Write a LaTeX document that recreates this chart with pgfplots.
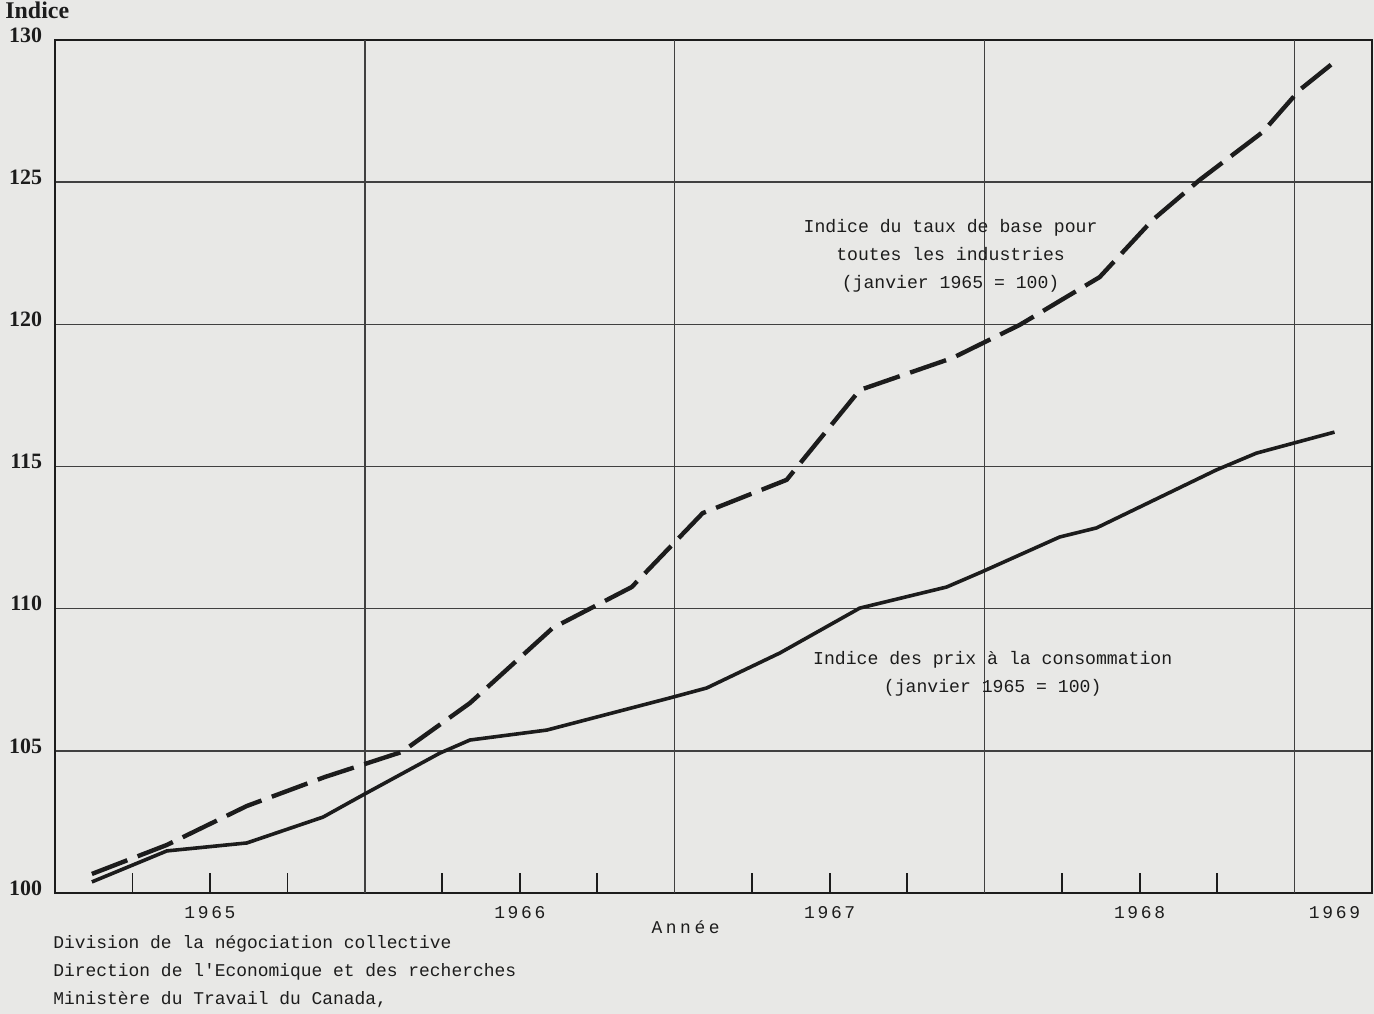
\documentclass[border=0pt]{standalone}
\usepackage{pgfplots}
\pgfplotsset{compat=1.18}
\usepackage{fontspec}
\setmainfont{Liberation Serif}
\newfontfamily\mono{Liberation Mono}
\definecolor{bg}{HTML}{E8E8E6}
\definecolor{ink}{HTML}{1C1C1C}
\definecolor{gridc}{HTML}{404040}
\newcommand\yr[4]{#1\hspace{.15em}#2\hspace{.15em}#3\hspace{.15em}#4}
\begin{document}
\begin{tikzpicture}
\path[use as bounding box, fill=bg] (-27.5bp,-60.5bp) rectangle (659.5bp,446.5bp);
\begin{axis}[
  at={(0,0)}, anchor=south west,
  scale only axis, width=658.5bp, height=426.5bp,
  xmin=1965, xmax=1969.25, ymin=100, ymax=130,
  clip=false,
  axis line style={ink, line width=1.4bp},
  xtick={1965.25,1965.5,1965.75,1966.25,1966.5,1966.75,1967.25,1967.5,1967.75,1968.25,1968.5,1968.75},
  xticklabels={,\yr1965,,,\yr1966,,,\yr1967,,,\yr1968,},
  xtick pos=bottom, tick align=inside, major tick length=10bp,
  x tick style={ink, line width=0.9bp},
  extra x ticks={1966,1967,1968,1969},
  extra x tick labels={},
  extra x tick style={grid=major, major tick length=0pt},
  ytick={100,105,110,115,120,125,130},
  yticklabels={100,105,110,115,120,125,130},
  ymajorgrids=true, ytick pos=left,
  y tick style={draw=none},
  grid style={gridc, line width=0.7bp},
  x tick label style={font=\mono\fontsize{9}{9}\selectfont, yshift=-3bp, text=ink},
  y tick label style={font=\bfseries\fontsize{11}{11}\selectfont, xshift=-3bp, yshift=2.5bp, text=ink},
]
% Indice du taux de base (dashed)
\addplot[ink, line width=2.2bp, line join=round, dash pattern=on 19bp off 5.5bp] coordinates {
(1965.119,100.67) (1965.361,101.69) (1965.619,103.06) (1965.871,104.08)
(1966.119,104.96) (1966.339,106.68) (1966.606,109.32) (1966.861,110.76)
(1967.090,113.36) (1967.361,114.53) (1967.597,117.69) (1967.897,118.82)
(1968.113,119.98) (1968.371,121.66) (1968.542,123.67) (1968.694,125.08)
(1968.897,126.76) (1969.016,128.24) (1969.145,129.37)
};
% Indice des prix a la consommation (solid)
\addplot[ink, line width=1.8bp, line join=round] coordinates {
(1965.119,100.39) (1965.361,101.48) (1965.619,101.76) (1965.865,102.67)
(1965.994,103.45) (1966.242,104.92) (1966.339,105.38) (1966.587,105.73)
(1966.984,106.86) (1967.103,107.21) (1967.339,108.44) (1967.597,110.02)
(1967.877,110.76) (1967.990,111.29) (1968.242,112.52) (1968.361,112.84)
(1968.748,114.88) (1968.877,115.47) (1969.129,116.21)
};
\node[align=center, text=ink, font=\mono\fontsize{9.1}{14}\selectfont] at (axis cs:1967.89,122.40)
  {Indice du taux de base pour\\toutes les industries\\(janvier 1965 = 100)};
\node[align=center, text=ink, font=\mono\fontsize{9.1}{14}\selectfont] at (axis cs:1968.026,107.70)
  {Indice des prix à la consommation\\(janvier 1965 = 100)};
\node[anchor=north, text=ink, font=\mono\fontsize{9}{9}\selectfont, yshift=-3bp] at (axis cs:1969.129,100) {\yr1969};
\node[text=ink, font=\mono\fontsize{9}{9}\selectfont] at (axis cs:1967.035,100) [yshift=-17bp] {A\hspace{.2em}n\hspace{.2em}n\hspace{.2em}é\hspace{.2em}e};
\end{axis}
\node[anchor=base west, inner sep=0pt, text=ink, font=\bfseries\fontsize{12}{12}\selectfont] at (-25bp,437bp) {Indice};
\node[anchor=base west, inner sep=0pt, text=ink, font=\mono\fontsize{9}{9}\selectfont] at (-1bp,-27.5bp) {Division de la négociation collective};
\node[anchor=base west, inner sep=0pt, text=ink, font=\mono\fontsize{9}{9}\selectfont] at (-1bp,-41.5bp) {Direction de l'Economique et des recherches};
\node[anchor=base west, inner sep=0pt, text=ink, font=\mono\fontsize{9}{9}\selectfont] at (-1bp,-55.5bp) {Ministère du Travail du Canada,};
\end{tikzpicture}
\end{document}
